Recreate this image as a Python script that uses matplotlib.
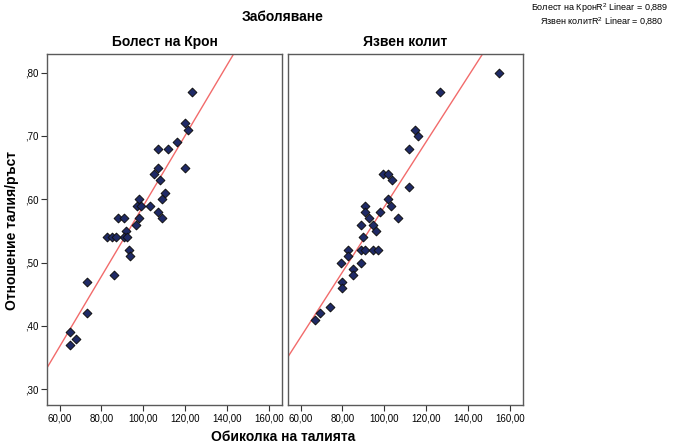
import numpy as np
import matplotlib
matplotlib.use("Agg")
import matplotlib.pyplot as plt
from matplotlib.ticker import FuncFormatter

plt.rcParams['font.family'] = ['Liberation Sans', 'DejaVu Sans']

# Болест на Крон
crohn_x = [123.2, 120.0, 121.3, 116.0, 106.9, 111.7, 120.0, 106.9, 105.0, 108.2,
           110.2, 109.1, 97.9, 97.0, 98.9, 103.0, 106.9, 109.1, 97.9, 88.0,
           90.9, 96.6, 91.8, 90.9, 92.2, 82.9, 85.0, 87.0, 93.0, 93.9,
           85.9, 73.0, 73.0, 64.8, 64.8, 67.8]
crohn_y = [0.77, 0.72, 0.71, 0.69, 0.68, 0.68, 0.65, 0.65, 0.64, 0.63,
           0.61, 0.60, 0.60, 0.59, 0.59, 0.59, 0.58, 0.57, 0.57, 0.57,
           0.57, 0.56, 0.55, 0.54, 0.54, 0.54, 0.54, 0.54, 0.52, 0.51,
           0.48, 0.47, 0.42, 0.39, 0.37, 0.38]

# Язвен колит
uc_x = [154.8, 126.7, 114.5, 115.9, 111.8, 111.8, 99.2, 102.0, 103.9, 101.7,
        103.0, 106.4, 97.9, 91.0, 91.0, 92.9, 88.9, 94.8, 95.9, 90.0,
        88.9, 91.0, 94.8, 97.1, 82.9, 82.9, 79.1, 88.9, 85.0, 85.0,
        80.0, 80.0, 74.1, 69.2, 67.1]
uc_y = [0.80, 0.77, 0.71, 0.70, 0.68, 0.62, 0.64, 0.64, 0.63, 0.60,
        0.59, 0.57, 0.58, 0.59, 0.58, 0.57, 0.56, 0.56, 0.55, 0.54,
        0.52, 0.52, 0.52, 0.52, 0.52, 0.51, 0.50, 0.50, 0.49, 0.48,
        0.47, 0.46, 0.43, 0.42, 0.41]

panels = ['Болест на Крон', 'Язвен колит']
r2_labels = ['0,889', '0,880']
x_ticks = [60, 80, 100, 120, 140, 160]
y_ticks = [0.30, 0.40, 0.50, 0.60, 0.70, 0.80]

fig = plt.figure(figsize=(6.74, 4.46), dpi=100)
ax1 = fig.add_axes([47 / 674, 0.092, 235 / 674, 0.787])
ax2 = fig.add_axes([288 / 674, 0.092, 235 / 674, 0.787])

xf = FuncFormatter(lambda v, p: f"{v:.2f}".replace('.', ','))
yf = FuncFormatter(lambda v, p: f"{v:.2f}".replace('0.', ',').replace('.', ','))

for ax, xs, ys, title in [(ax1, crohn_x, crohn_y, panels[0]), (ax2, uc_x, uc_y, panels[1])]:
    xs = np.array(xs)
    ys = np.array(ys)
    ax.set_xlim(54, 166.3)
    ax.set_ylim(0.275, 0.8295)
    k, b = np.polyfit(xs, ys, 1)
    lx = np.array([40, 200])
    ax.plot(lx, k * lx + b, color='#f26b6b', lw=1.0, zorder=1)
    ax.scatter(xs, ys, marker='D', s=20, facecolor='#1f2a66', edgecolor='#111111',
               linewidths=0.7, zorder=2)
    ax.set_title(title, fontsize=10, fontweight='bold', pad=6)
    ax.set_xticks(x_ticks)
    ax.xaxis.set_major_formatter(xf)
    for s in ax.spines.values():
        s.set_color('#5a5a5a')
        s.set_linewidth(1.0)
    ax.tick_params(labelsize=7, length=4, color='#333333', pad=2)

ax1.set_yticks(y_ticks)
ax1.yaxis.set_major_formatter(yf)
ax2.set_yticks(y_ticks)
ax2.tick_params(axis='y', left=False, labelleft=False)

fig.text(283 / 674, 1 - 17 / 446, 'Заболяване', ha='center', va='center',
         fontsize=10, fontweight='bold')
fig.text(283 / 674, 1 - 437 / 446, 'Обиколка на талията', ha='center', va='center',
         fontsize=10, fontweight='bold')
fig.text(12 / 674, 1 - 230 / 446, 'Отношение талия/ръст', ha='center', va='center',
         fontsize=10, fontweight='bold', rotation=90)

fig.text(668 / 674, 1 - 8 / 446, 'Болест на Крон$\\mathregular{R^2}$ Linear = ' + r2_labels[0],
         ha='right', va='center', fontsize=6.5)
fig.text(664 / 674, 1 - 22 / 446, 'Язвен колит$\\mathregular{R^2}$ Linear = ' + r2_labels[1],
         ha='right', va='center', fontsize=6.5)

fig.savefig('out.png', dpi=100)
